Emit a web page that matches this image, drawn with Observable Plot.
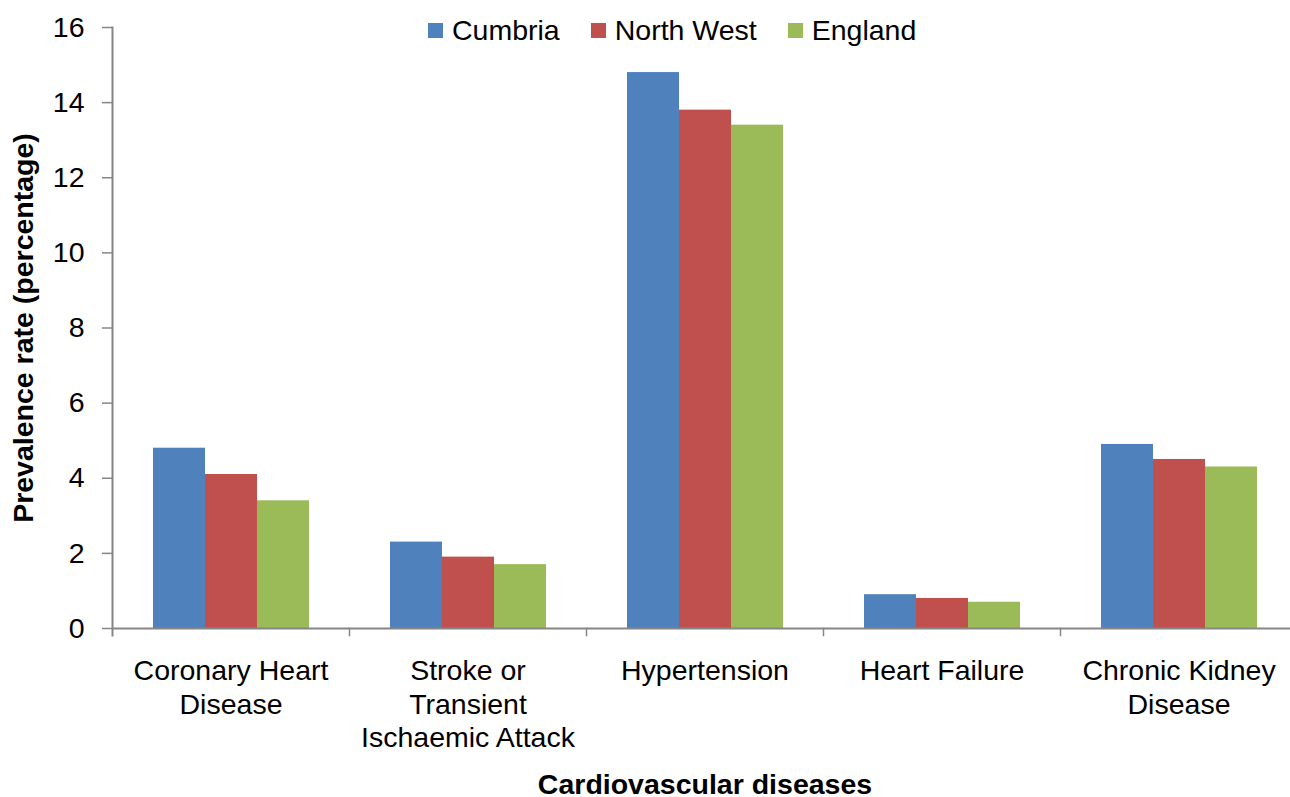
<!DOCTYPE html>
<html><head><meta charset="utf-8">
<script src="https://cdn.jsdelivr.net/npm/d3@7"></script>
<script src="https://cdn.jsdelivr.net/npm/@observablehq/plot@0.6"></script>
<style>
html, body { margin:0; padding:0; background:#fff; overflow:hidden; }
#wrap { position: relative; width:1290px; height:797px; }
#legend { position:absolute; top: 14px; left: 428px; }
.lg-swatches { font-family: "Liberation Sans", Arial, sans-serif !important; font-size: 28.5px !important; color: #000 !important; margin: 0 !important; }
.lg-swatch { margin-right: 31px !important; }
.lg-swatch > svg { margin-right: 9px !important; }
g[aria-label="y-axis label"], g[aria-label="fx-axis label"] { font-weight: bold; }
</style>
</head><body>
<div id="wrap"><div id="chart"></div><div id="legend"></div></div>
<script>
const categories = ["Coronary Heart Disease", "Stroke or Transient Ischaemic Attack", "Hypertension", "Heart Failure", "Chronic Kidney Disease"];
const categoryLabels = ["Coronary Heart\nDisease", "Stroke or\nTransient\nIschaemic Attack", "Hypertension", "Heart Failure", "Chronic Kidney\nDisease"];
const series = ["Cumbria", "North West", "England"];
const cumbria = [4.8, 2.3, 14.8, 0.9, 4.9];
const northWest = [4.1, 1.9, 13.8, 0.8, 4.5];
const england = [3.4, 1.7, 13.4, 0.7, 4.3];
const colors = ["#4F81BD", "#C0504D", "#9BBB59"];
const yTicks = [0, 2, 4, 6, 8, 10, 12, 14, 16];

const values = [cumbria, northWest, england];
const data = categories.flatMap((c, i) => series.map((s, j) => ({category: c, series: s, value: values[j][i]})));
const labelOf = new Map(categories.map((c, i) => [c, categoryLabels[i]]));

const W = 1290, H = 797, mT = 27, mB = 169, mL = 112, mR = -7;
const innerH = H - mT - mB;
const axisGray = "#868686";
const font = '"Liberation Sans", Arial, sans-serif';
const fs = 28.5;

const chart = Plot.plot({
  width: W, height: H, marginTop: mT, marginBottom: mB, marginLeft: mL, marginRight: mR,
  style: {fontFamily: font, fontSize: fs + "px", color: "#000", background: "#fff", overflow: "visible"},
  fx: {domain: categories, padding: 0, axis: null},
  x: {domain: series, paddingInner: 0, paddingOuter: 0.75, axis: null},
  y: {domain: [0, 16], axis: null},
  color: {domain: series, range: colors},
  marks: [
    Plot.barY(data, {fx: "category", x: "series", y: "value", fill: "series"}),
    Plot.ruleY([0], {stroke: axisGray, strokeWidth: 2}),
    Plot.frame({anchor: "left", facetAnchor: "left", stroke: axisGray, strokeWidth: 2, insetBottom: -7}),
    Plot.frame({anchor: "right", stroke: axisGray, strokeWidth: 1.5, insetTop: innerH, insetBottom: -7}),
    Plot.axisY({ticks: yTicks, tickSize: 10, tickPadding: 18, stroke: axisGray, strokeWidth: 1.5, label: "Prevalence rate (percentage)", labelArrow: false, labelAnchor: "center", labelOffset: 100, fontSize: fs}),
    Plot.axisFx({anchor: "bottom", tickSize: 0, tickPadding: 28, tickFormat: c => labelOf.get(c), lineHeight: 1.17, label: "Cardiovascular diseases", labelArrow: false, labelAnchor: "center", labelOffset: 165, fontSize: fs})
  ]
});
document.getElementById("chart").append(chart);

const legend = chart.legend("color", {legend: "swatches", swatchSize: 15, className: "lg", style: {fontSize: fs + "px", fontFamily: font, color: "#000"}});
document.getElementById("legend").append(legend);
</script>
</body></html>
